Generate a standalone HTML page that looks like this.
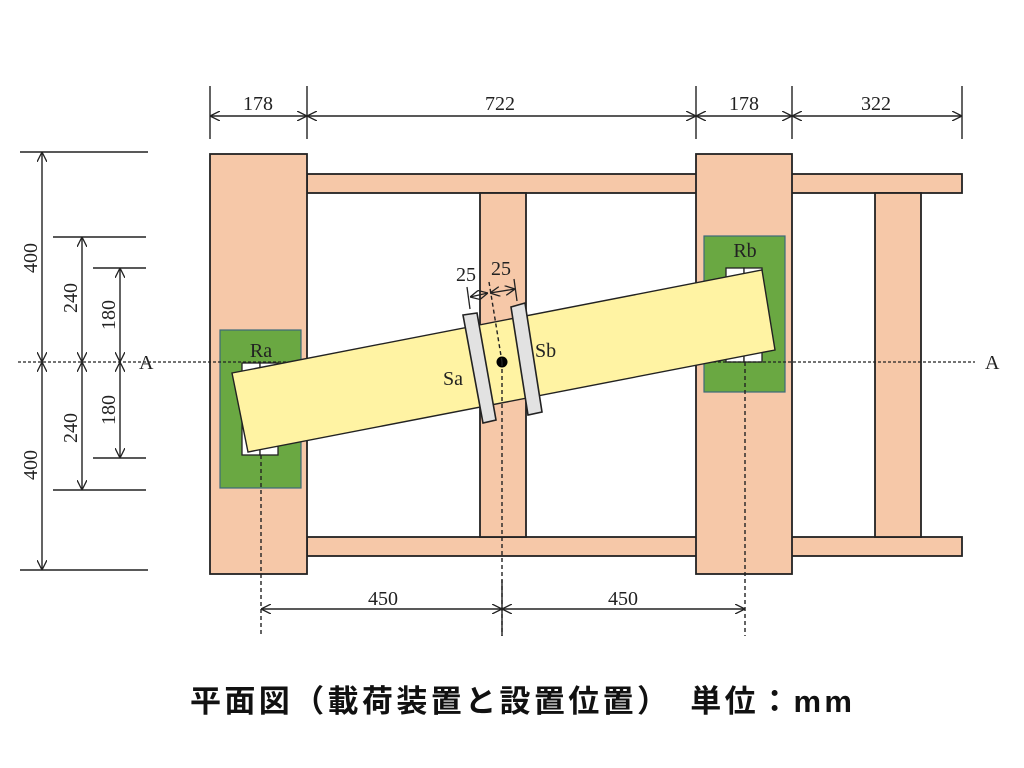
<!DOCTYPE html>
<html><head><meta charset="utf-8"><style>
html,body{margin:0;padding:0;background:#fff;width:1024px;height:768px;overflow:hidden}
svg{display:block}
.t{font-family:"Liberation Serif",serif;font-size:20px;fill:#222}
</style></head><body>
<svg width="1024" height="768" viewBox="0 0 1024 768">
<defs>
<marker id="a" viewBox="0 0 10 10" refX="10" refY="5" markerWidth="10" markerHeight="10" orient="auto-start-reverse" markerUnits="userSpaceOnUse">
<path d="M0,0 L10,5 L0,10" fill="none" stroke="#222" stroke-width="1.3"/></marker>
</defs>
<g stroke="#222" stroke-width="1.8" fill="#f6c8a8">
<rect x="307" y="174" width="655" height="19"/>
<rect x="307" y="537" width="655" height="19"/>
<rect x="480" y="193" width="46" height="344"/>
<rect x="875" y="193" width="46" height="344"/>
<rect x="210" y="154" width="97" height="420"/>
<rect x="696" y="154" width="96" height="420"/>
</g>
<rect x="220" y="330" width="81" height="158" fill="#6aa842" stroke="#3d6a7a" stroke-width="1.2"/>
<rect x="704" y="236" width="81" height="156" fill="#6aa842" stroke="#3d6a7a" stroke-width="1.2"/>
<g fill="#fff" stroke="#222" stroke-width="1.3">
<rect x="242" y="363" width="18" height="92"/><rect x="260" y="363" width="18" height="92"/>
<rect x="726" y="268" width="18" height="94"/><rect x="744" y="268" width="18" height="94"/>
</g>
<text x="261" y="357" class="t" text-anchor="middle">Ra</text>
<text x="745" y="257" class="t" text-anchor="middle">Rb</text>
<line x1="18" y1="362" x2="975" y2="362" stroke="#222" stroke-width="1.3" stroke-dasharray="3,2"/>
<text x="139" y="369" class="t">A</text>
<text x="985" y="369" class="t">A</text>
<polygon points="232,373 762,270 775,350 248,452" fill="#fff3a3" stroke="#222" stroke-width="1.4"/>
<polygon points="463,315 477,313 496,420 483,423" fill="#e2e2e2" stroke="#222" stroke-width="1.6"/>
<polygon points="511,307 525,303 542,412 528,415" fill="#e2e2e2" stroke="#222" stroke-width="1.6"/>
<circle cx="502" cy="362" r="5.5" fill="#000"/>
<text x="443" y="385" class="t">Sa</text>
<text x="535" y="357" class="t">Sb</text>
<g stroke="#222" stroke-width="1.4" stroke-dasharray="4,3">
<line x1="261" y1="455" x2="261" y2="636"/>
<line x1="745" y1="362" x2="745" y2="636"/>
<line x1="489" y1="282" x2="502" y2="362"/>
<line x1="502" y1="362" x2="502" y2="636"/>
</g>
<g stroke="#222" stroke-width="1.3">
<line x1="467" y1="287" x2="470" y2="309"/>
<line x1="514" y1="279" x2="517" y2="301"/>
<line x1="470" y1="297" x2="488" y2="293" marker-start="url(#a)" marker-end="url(#a)"/>
<line x1="490" y1="293" x2="515" y2="289" marker-start="url(#a)" marker-end="url(#a)"/>
</g>
<text x="466" y="281" class="t" text-anchor="middle">25</text>
<text x="501" y="275" class="t" text-anchor="middle">25</text>
<g stroke="#222" stroke-width="1.4">
<line x1="210" y1="86" x2="210" y2="139"/><line x1="307" y1="86" x2="307" y2="139"/>
<line x1="696" y1="86" x2="696" y2="139"/><line x1="792" y1="86" x2="792" y2="139"/>
<line x1="962" y1="86" x2="962" y2="139"/>
<line x1="210" y1="116" x2="307" y2="116" marker-start="url(#a)" marker-end="url(#a)"/>
<line x1="307" y1="116" x2="696" y2="116" marker-start="url(#a)" marker-end="url(#a)"/>
<line x1="696" y1="116" x2="792" y2="116" marker-start="url(#a)" marker-end="url(#a)"/>
<line x1="792" y1="116" x2="962" y2="116" marker-start="url(#a)" marker-end="url(#a)"/>
</g>
<text x="258" y="110" class="t" text-anchor="middle">178</text>
<text x="500" y="110" class="t" text-anchor="middle">722</text>
<text x="744" y="110" class="t" text-anchor="middle">178</text>
<text x="876" y="110" class="t" text-anchor="middle">322</text>
<g stroke="#222" stroke-width="1.4">
<line x1="20" y1="152" x2="148" y2="152"/>
<line x1="53" y1="237" x2="146" y2="237"/>
<line x1="93" y1="268" x2="146" y2="268"/>
<line x1="93" y1="458" x2="146" y2="458"/>
<line x1="53" y1="490" x2="146" y2="490"/>
<line x1="20" y1="570" x2="148" y2="570"/>
<line x1="42" y1="152" x2="42" y2="362" marker-start="url(#a)" marker-end="url(#a)"/>
<line x1="42" y1="362" x2="42" y2="570" marker-start="url(#a)" marker-end="url(#a)"/>
<line x1="82" y1="237" x2="82" y2="362" marker-start="url(#a)" marker-end="url(#a)"/>
<line x1="82" y1="362" x2="82" y2="490" marker-start="url(#a)" marker-end="url(#a)"/>
<line x1="120" y1="268" x2="120" y2="362" marker-start="url(#a)" marker-end="url(#a)"/>
<line x1="120" y1="362" x2="120" y2="458" marker-start="url(#a)" marker-end="url(#a)"/>
</g>
<text class="t" transform="translate(37,258) rotate(-90)" text-anchor="middle">400</text>
<text class="t" transform="translate(77,298) rotate(-90)" text-anchor="middle">240</text>
<text class="t" transform="translate(115,315) rotate(-90)" text-anchor="middle">180</text>
<text class="t" transform="translate(115,410) rotate(-90)" text-anchor="middle">180</text>
<text class="t" transform="translate(77,428) rotate(-90)" text-anchor="middle">240</text>
<text class="t" transform="translate(37,465) rotate(-90)" text-anchor="middle">400</text>
<g stroke="#222" stroke-width="1.4">
<line x1="261" y1="609" x2="502" y2="609" marker-start="url(#a)" marker-end="url(#a)"/>
<line x1="502" y1="609" x2="745" y2="609" marker-start="url(#a)" marker-end="url(#a)"/>
<line x1="502" y1="580" x2="502" y2="636"/>
</g>
<text x="383" y="605" class="t" text-anchor="middle">450</text>
<text x="623" y="605" class="t" text-anchor="middle">450</text>
<text x="190" y="712" textLength="662" lengthAdjust="spacing" style="font-family:'Liberation Sans','Noto Sans CJK JP',sans-serif;font-weight:bold;font-size:31px;fill:#111">平面図（載荷装置と設置位置）　単位：mm</text>
</svg>
</body></html>
